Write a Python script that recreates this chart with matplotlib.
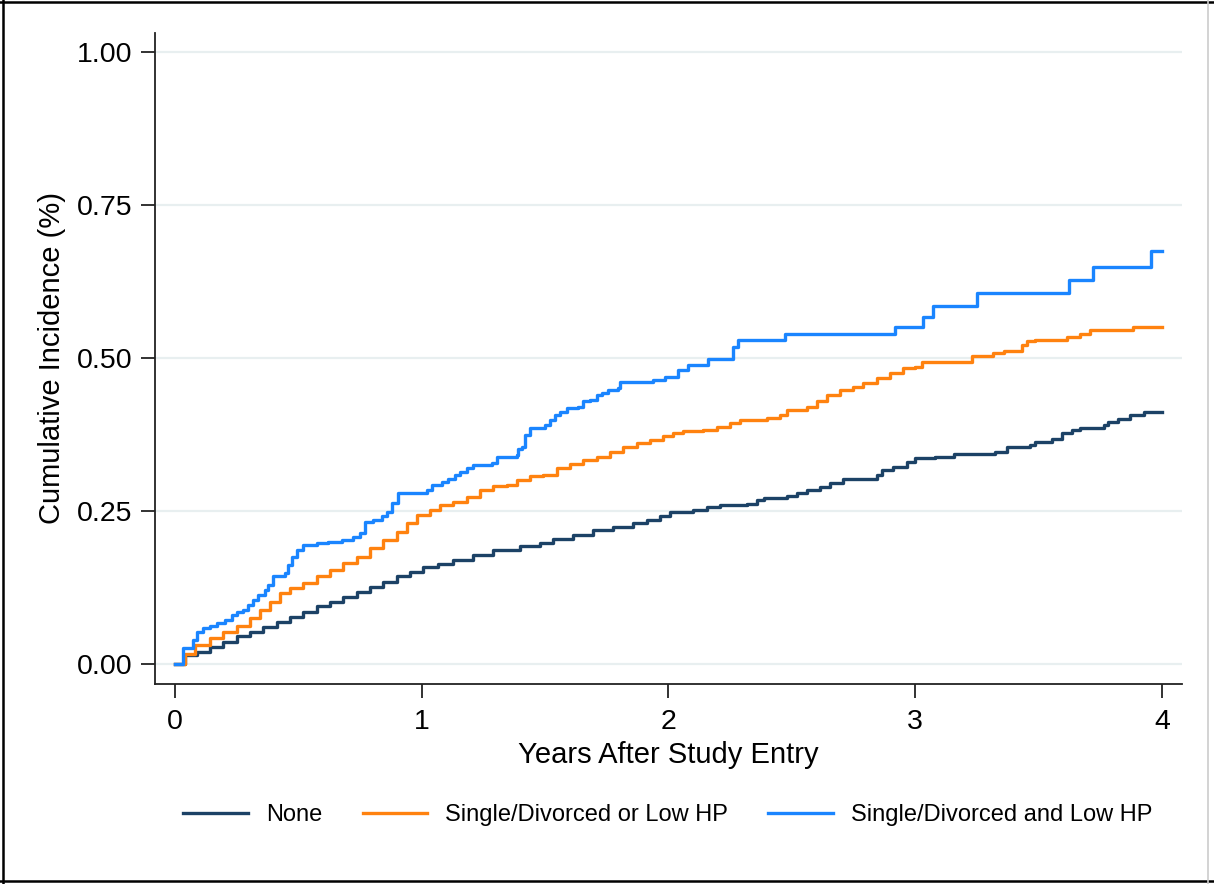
import numpy as np
import matplotlib
matplotlib.use('Agg')
import matplotlib.pyplot as plt
from matplotlib.lines import Line2D

plt.rcParams['font.family'] = ['Liberation Sans', 'DejaVu Sans']

# Cumulative incidence step points (years, incidence) for each group
none_t = [0, 0.041, 0.088, 0.142, 0.196, 0.250, 0.304, 0.358, 0.412, 0.466, 0.520,
          0.574, 0.628, 0.682, 0.736, 0.790, 0.844, 0.898, 0.952, 1.006, 1.067,
          1.128, 1.209, 1.290, 1.398, 1.479, 1.533, 1.614, 1.695, 1.776, 1.857,
          1.911, 1.966, 2.006, 2.101, 2.155, 2.209, 2.317, 2.358, 2.385, 2.479,
          2.520, 2.560, 2.614, 2.655, 2.709, 2.844, 2.864, 2.911, 2.965, 3.0,
          3.081, 3.155, 3.323, 3.371, 3.465, 3.485, 3.553, 3.593, 3.634, 3.668,
          3.763, 3.783, 3.823, 3.871, 3.925, 4.0]
none_v = [0, 0.015, 0.020, 0.028, 0.036, 0.045, 0.053, 0.061, 0.069, 0.077, 0.085,
          0.094, 0.102, 0.110, 0.118, 0.126, 0.134, 0.143, 0.151, 0.158, 0.164,
          0.170, 0.178, 0.186, 0.192, 0.197, 0.205, 0.211, 0.219, 0.224, 0.230,
          0.235, 0.241, 0.249, 0.252, 0.257, 0.260, 0.262, 0.268, 0.272, 0.275,
          0.280, 0.284, 0.290, 0.295, 0.302, 0.309, 0.317, 0.322, 0.330, 0.336,
          0.339, 0.343, 0.347, 0.355, 0.358, 0.363, 0.368, 0.377, 0.382, 0.386,
          0.391, 0.396, 0.400, 0.407, 0.412, 0.412]

either_t = [0, 0.041, 0.081, 0.142, 0.196, 0.250, 0.304, 0.344, 0.385, 0.426, 0.466,
            0.520, 0.574, 0.628, 0.682, 0.736, 0.790, 0.844, 0.898, 0.939, 0.980,
            1.033, 1.074, 1.128, 1.182, 1.236, 1.290, 1.344, 1.385, 1.439, 1.493,
            1.547, 1.601, 1.655, 1.709, 1.763, 1.817, 1.871, 1.925, 1.979, 2.019,
            2.060, 2.141, 2.195, 2.249, 2.290, 2.398, 2.452, 2.479, 2.560, 2.601,
            2.641, 2.695, 2.749, 2.789, 2.844, 2.898, 2.952, 3.0, 3.027, 3.229,
            3.317, 3.358, 3.431, 3.452, 3.485, 3.614, 3.668, 3.708, 3.884, 4.0]
either_v = [0, 0.017, 0.031, 0.042, 0.053, 0.062, 0.075, 0.088, 0.102, 0.116, 0.124,
            0.132, 0.143, 0.154, 0.165, 0.175, 0.189, 0.203, 0.216, 0.230, 0.243,
            0.252, 0.260, 0.265, 0.273, 0.284, 0.291, 0.292, 0.301, 0.307, 0.309,
            0.320, 0.327, 0.334, 0.339, 0.347, 0.355, 0.361, 0.366, 0.373, 0.377,
            0.380, 0.382, 0.387, 0.393, 0.399, 0.402, 0.407, 0.415, 0.420, 0.429,
            0.440, 0.448, 0.453, 0.459, 0.467, 0.475, 0.483, 0.486, 0.494, 0.503,
            0.508, 0.512, 0.521, 0.527, 0.530, 0.535, 0.539, 0.546, 0.550, 0.550]

both_t = [0, 0.034, 0.072, 0.088, 0.115, 0.142, 0.169, 0.203, 0.230, 0.250, 0.277,
          0.297, 0.317, 0.338, 0.365, 0.378, 0.399, 0.446, 0.459, 0.473, 0.493,
          0.520, 0.574, 0.621, 0.675, 0.723, 0.750, 0.770, 0.804, 0.838, 0.858,
          0.878, 0.905, 1.020, 1.040, 1.081, 1.108, 1.135, 1.155, 1.182, 1.209,
          1.283, 1.303, 1.385, 1.391, 1.405, 1.418, 1.439, 1.499, 1.520, 1.540,
          1.560, 1.587, 1.634, 1.655, 1.682, 1.709, 1.729, 1.756, 1.797, 1.803,
          1.939, 1.986, 2.040, 2.080, 2.161, 2.260, 2.283, 2.472, 2.918, 3.033,
          3.073, 3.249, 3.624, 3.722, 3.954, 4.0]
both_v = [0, 0.026, 0.039, 0.053, 0.058, 0.062, 0.067, 0.072, 0.080, 0.085, 0.088,
          0.096, 0.105, 0.113, 0.121, 0.129, 0.143, 0.148, 0.162, 0.175, 0.186,
          0.194, 0.197, 0.200, 0.203, 0.208, 0.214, 0.232, 0.235, 0.241, 0.249,
          0.263, 0.279, 0.284, 0.292, 0.298, 0.303, 0.309, 0.314, 0.320, 0.325,
          0.328, 0.339, 0.342, 0.352, 0.355, 0.374, 0.385, 0.391, 0.399, 0.407,
          0.412, 0.418, 0.420, 0.429, 0.431, 0.440, 0.442, 0.448, 0.451, 0.461,
          0.464, 0.469, 0.480, 0.489, 0.499, 0.518, 0.529, 0.539, 0.550, 0.567,
          0.585, 0.606, 0.627, 0.649, 0.674, 0.674]

labels = ['None', 'Single/Divorced or Low HP', 'Single/Divorced and Low HP']
colors = ['#1c4266', '#ff820f', '#1a85ff']
x_ticks = [0, 1, 2, 3, 4]
y_ticks = [0.0, 0.25, 0.5, 0.75, 1.0]

fig = plt.figure(figsize=(12.14, 8.84), dpi=100)
ax = fig.add_axes([155 / 1214, 1 - 684 / 884, 1027 / 1214, 651 / 884])

for y in y_ticks:
    ax.axhline(y, color='#e8eff0', lw=1.6, zorder=0)

for t, v, c, lab in zip([none_t, either_t, both_t], [none_v, either_v, both_v], colors, labels):
    ax.step(t, v, where='post', color=c, lw=2.4, label=lab, zorder=3)

ax.set_xlim(-0.081, 4.081)
ax.set_ylim(-0.0327, 1.031)
ax.set_xticks(x_ticks)
ax.set_yticks(y_ticks)
ax.set_yticklabels(['%.2f' % y for y in y_ticks])
ax.tick_params(axis='both', direction='out', length=10, width=1.3, color='#222222',
               labelsize=20.5, pad=6)
ax.tick_params(axis='x', pad=8)
for s in ['top', 'right']:
    ax.spines[s].set_visible(False)
for s in ['left', 'bottom']:
    ax.spines[s].set_linewidth(1.3)
    ax.spines[s].set_color('#222222')

ax.set_xlabel('Years After Study Entry', fontsize=21, labelpad=4)
ax.set_ylabel('Cumulative Incidence (%)', fontsize=21, labelpad=8)

fig.legend(loc='center', bbox_to_anchor=(668 / 1214, 1 - 815 / 884), ncol=3,
           frameon=False, fontsize=17, handlelength=2.75, handletextpad=0.76,
           columnspacing=1.7)

# outer frame
fig.add_artist(Line2D([3 / 1214, 3 / 1214], [0, 1], color='black', lw=1.8))
fig.add_artist(Line2D([0, 1], [1 - 2 / 884, 1 - 2 / 884], color='black', lw=1.8))
fig.add_artist(Line2D([0, 1], [1 - 881 / 884, 1 - 881 / 884], color='black', lw=1.8))
fig.add_artist(Line2D([1208 / 1214, 1208 / 1214], [0, 1], color='#cccccc', lw=1.2))

fig.savefig('out.png', dpi=100)
